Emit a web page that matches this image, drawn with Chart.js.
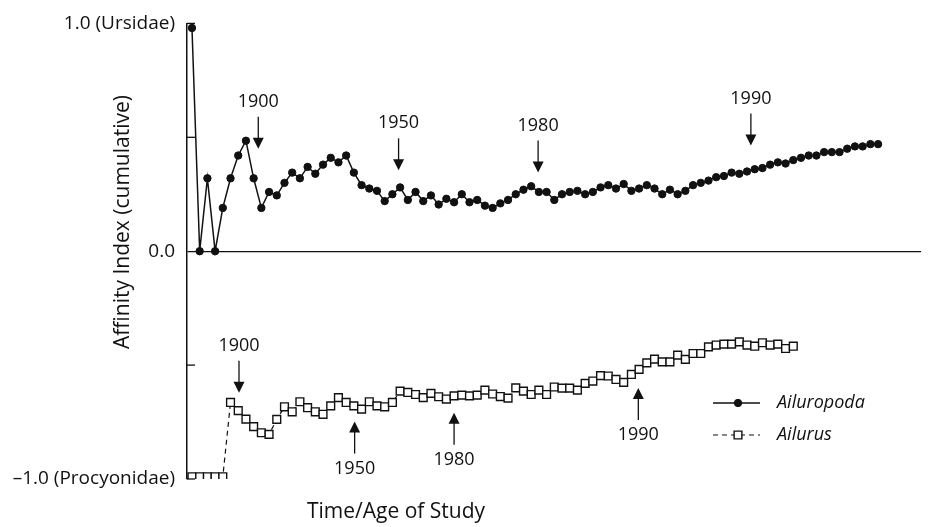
<!DOCTYPE html>
<html>
<head>
<meta charset="utf-8">
<script src="https://cdn.jsdelivr.net/npm/chart.js@4.4.1/dist/chart.umd.min.js"></script>
<style>
  html, body { margin: 0; padding: 0; background: #fff; }
  #wrap { width: 928px; height: 527px; position: relative; }
</style>
</head>
<body>
<div id="wrap"><canvas id="affinityChart"></canvas></div>
<script>
// cumulative affinity index, one value per study (in order of publication)
const ailuropoda = [
  0.98, 0, 0.32, 0, 0.19, 0.32, 0.42, 0.485, 0.32, 0.19,
  0.26, 0.245, 0.30, 0.345, 0.32, 0.37, 0.34, 0.38, 0.41, 0.39,
  0.42, 0.345, 0.29, 0.275, 0.265, 0.22, 0.25, 0.28, 0.225, 0.26,
  0.22, 0.245, 0.205, 0.23, 0.215, 0.25, 0.215, 0.225, 0.20, 0.19,
  0.21, 0.225, 0.25, 0.27, 0.285, 0.26, 0.26, 0.225, 0.25, 0.26,
  0.265, 0.25, 0.26, 0.28, 0.29, 0.275, 0.295, 0.265, 0.275, 0.29,
  0.275, 0.25, 0.27, 0.25, 0.265, 0.29, 0.30, 0.31, 0.325, 0.33,
  0.345, 0.34, 0.35, 0.36, 0.365, 0.38, 0.39, 0.385, 0.40, 0.41,
  0.42, 0.42, 0.435, 0.435, 0.435, 0.45, 0.46, 0.46, 0.47, 0.47
];
const ailurus = [
  -0.99, -0.99, -0.99, -0.99, -0.99, -0.664, -0.70, -0.737, -0.77, -0.797,
  -0.804, -0.738, -0.683, -0.705, -0.661, -0.687, -0.705, -0.716, -0.679, -0.643,
  -0.664, -0.679, -0.693, -0.661, -0.679, -0.683, -0.664, -0.614, -0.62, -0.629,
  -0.643, -0.624, -0.639, -0.649, -0.635, -0.632, -0.635, -0.632, -0.61, -0.627,
  -0.638, -0.645, -0.60, -0.614, -0.629, -0.61, -0.629, -0.596, -0.601, -0.601,
  -0.61, -0.58, -0.57, -0.546, -0.548, -0.563, -0.576, -0.541, -0.519, -0.49,
  -0.474, -0.486, -0.486, -0.456, -0.475, -0.449, -0.449, -0.42, -0.412, -0.408,
  -0.408, -0.398, -0.412, -0.417, -0.402, -0.412, -0.408, -0.427, -0.417
];

// y tick labels (only the ends and zero are labelled)
const yTickValues = [1, 0, -1];
const yTickTexts = ["1.0 (Ursidae)", "0.0", "\u20131.0 (Procyonidae)"];
const innerTicks = [1, 0.5, -0.5, -1];

// year markers: study index where the year falls and value at arrow tip
const topYears = ["1900", "1950", "1980", "1990"];
const topYearAt = [8.6, 26.8, 44.9, 72.5];
const topYearTip = [0.45, 0.355, 0.345, 0.464];
const botYears = ["1900", "1950", "1980", "1990"];
const botYearAt = [6.1, 21.1, 34.0, 57.9];
const botYearTip = [-0.621, -0.748, -0.709, -0.60];
const botYearDir = ["down", "up", "up", "up"];

const FONT = "'Open Sans', 'DejaVu Sans', sans-serif";
const INK = "#111";

function drawArrow(ctx, px, tip, dir) {
  const s = dir === "down" ? -1 : 1;
  ctx.beginPath();
  ctx.moveTo(px, tip + s * 32);
  ctx.lineTo(px, tip + s * 9);
  ctx.stroke();
  ctx.beginPath();
  ctx.moveTo(px - 5.5, tip + s * 11);
  ctx.lineTo(px + 5.5, tip + s * 11);
  ctx.lineTo(px, tip);
  ctx.closePath();
  ctx.fill();
  return tip + s * 47;
}

const decor = {
  id: "decor",
  afterDatasetsDraw(chart) {
    const { ctx, chartArea, scales: { x, y } } = chart;
    ctx.save();
    ctx.strokeStyle = INK;
    ctx.fillStyle = INK;
    ctx.lineWidth = 1.3;

    // short ticks pointing into the plot
    innerTicks.forEach(v => {
      const py = y.getPixelForValue(v);
      ctx.beginPath();
      ctx.moveTo(chartArea.left, py);
      ctx.lineTo(chartArea.left + 8, py);
      ctx.stroke();
    });

    // year arrows
    ctx.font = "18px " + FONT;
    ctx.textAlign = "center";
    ctx.textBaseline = "middle";
    topYears.forEach((yr, i) => {
      const px = x.getPixelForValue(topYearAt[i]);
      const ly = drawArrow(ctx, px, y.getPixelForValue(topYearTip[i]), "down");
      ctx.fillText(yr, px, ly);
    });
    botYears.forEach((yr, i) => {
      const px = x.getPixelForValue(botYearAt[i]);
      const ly = drawArrow(ctx, px, y.getPixelForValue(botYearTip[i]), botYearDir[i]);
      ctx.fillText(yr, px, ly);
    });

    // legend
    const sets = chart.data.datasets;
    [403, 435].forEach((ly, i) => {
      const ds = sets[i];
      ctx.strokeStyle = INK;
      ctx.lineWidth = ds.borderWidth;
      ctx.setLineDash(ds.borderDash || []);
      ctx.beginPath();
      ctx.moveTo(713, ly);
      ctx.lineTo(760, ly);
      ctx.stroke();
      ctx.setLineDash([]);
      ctx.fillStyle = ds.pointBackgroundColor;
      ctx.lineWidth = ds.pointBorderWidth;
      Chart.helpers.drawPoint(ctx, {
        pointStyle: ds.pointStyle, rotation: 0,
        radius: ds.pointRadius, borderWidth: ds.pointBorderWidth
      }, 738, ly);
      ctx.fillStyle = INK;
      ctx.font = "italic 18px " + FONT;
      ctx.textAlign = "left";
      ctx.fillText(ds.label, 777, ly);
    });

    // axis titles
    ctx.font = "21px " + FONT;
    ctx.textAlign = "center";
    ctx.fillText("Time/Age of Study", 396, 512);
    ctx.translate(123, 222);
    ctx.rotate(-Math.PI / 2);
    ctx.fillText("Affinity Index (cumulative)", 0, 0);
    ctx.restore();
  }
};

new Chart(document.getElementById("affinityChart"), {
  type: "line",
  data: {
    datasets: [
      {
        label: "Ailuropoda",
        data: ailuropoda.map((v, i) => ({ x: i, y: v })),
        borderColor: INK,
        borderWidth: 1.5,
        pointStyle: "circle",
        pointRadius: 3.7,
        pointBackgroundColor: INK,
        pointBorderColor: INK,
        pointBorderWidth: 1,
        tension: 0
      },
      {
        label: "Ailurus",
        data: ailurus.map((v, i) => ({ x: i, y: v })),
        borderColor: INK,
        borderWidth: 1.2,
        borderDash: [5, 4],
        pointStyle: "rect",
        pointRadius: 5.5,
        pointBackgroundColor: "#fff",
        pointBorderColor: INK,
        pointBorderWidth: 1.4,
        tension: 0
      }
    ]
  },
  options: {
    responsive: true,
    maintainAspectRatio: false,
    animation: false,
    layout: { padding: { top: 22, bottom: 48, left: 0, right: 1 } },
    plugins: { legend: { display: false }, tooltip: { enabled: false } },
    scales: {
      x: {
        type: "linear",
        display: false,
        min: -0.645,
        max: 94.58
      },
      y: {
        min: -1,
        max: 1,
        afterFit: s => { s.width = 187; },
        afterBuildTicks: s => { s.ticks = [1, 0.5, 0, -0.5, -1].map(v => ({ value: v })); },
        border: { display: true, color: INK, width: 1.5 },
        grid: {
          drawTicks: false,
          lineWidth: 1.2,
          color: c => (c.tick && c.tick.value === 0 ? INK : "rgba(0,0,0,0)")
        },
        ticks: {
          padding: 12,
          color: INK,
          font: { family: FONT, size: 19 },
          callback: v => {
            const k = yTickValues.indexOf(v);
            return k >= 0 ? yTickTexts[k] : "";
          }
        }
      }
    }
  },
  plugins: [decor]
});
</script>
</body>
</html>
